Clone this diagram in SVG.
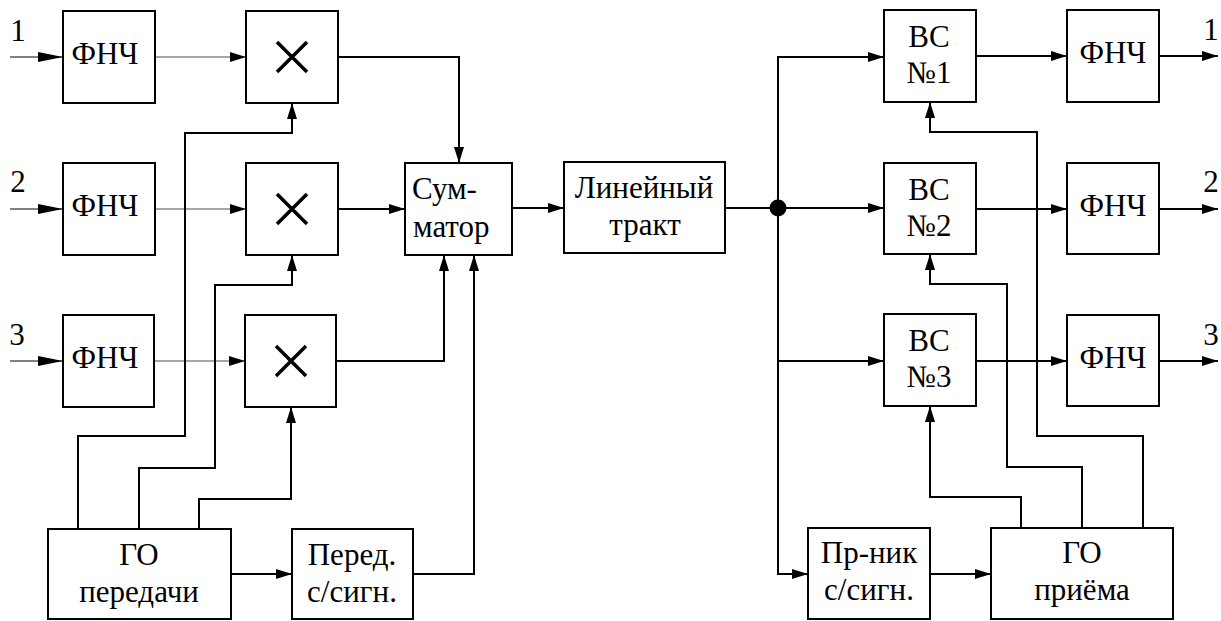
<svg xmlns="http://www.w3.org/2000/svg" width="1221" height="621" viewBox="0 0 1221 621">
<style>
.b{fill:#fff;stroke:#000;stroke-width:2}
.t{font-size:31px;fill:#000;text-anchor:middle}
.l{text-anchor:start}
.c{fill:none;stroke:#000;stroke-width:2}
.thin{fill:none;stroke:#000;stroke-width:1}
.g{fill:none;stroke:#888;stroke-width:1.5}
.x{stroke:#000;stroke-width:3.5;fill:none}
</style>
<defs>
<marker id="a" markerUnits="userSpaceOnUse" markerWidth="16" markerHeight="10" refX="16" refY="5" orient="auto"><path d="M0,0L16,5L0,10z" fill="#000"/></marker>
<marker id="ai" markerUnits="userSpaceOnUse" markerWidth="25" markerHeight="10" refX="25" refY="5" orient="auto"><path d="M0,0L25,5L0,10z" fill="#000"/></marker>
</defs>
<rect width="1221" height="621" fill="#fff"/>
<g id="connectors">
<path class="thin" d="M10,57H63" marker-end="url(#ai)"/>
<path class="thin" d="M10,209H63" marker-end="url(#ai)"/>
<path class="thin" d="M10,361H63" marker-end="url(#ai)"/>
<path class="g" d="M155,57H246" marker-end="url(#a)"/>
<path class="g" d="M155,209H246" marker-end="url(#a)"/>
<path class="g" d="M154,361H245" marker-end="url(#a)"/>
<path class="c" d="M338,57H459V163" marker-end="url(#a)"/>
<path class="c" d="M338,209H405" marker-end="url(#a)"/>
<path class="c" d="M336,361H444V255" marker-end="url(#a)"/>
<path class="c" d="M413,574H474V255" marker-end="url(#a)"/>
<path class="c" d="M512,208H564" marker-end="url(#a)"/>
<path class="c" d="M231,574H292" marker-end="url(#a)"/>
<path class="c" d="M78,529V436H185V133H292V103" marker-end="url(#a)"/>
<path class="c" d="M139,529V468H215V285H292V255" marker-end="url(#a)"/>
<path class="c" d="M199,533V499H291V407" marker-end="url(#a)"/>
<path class="c" d="M725,208H778"/>
<path class="c" d="M778,208V57H884" marker-end="url(#a)"/>
<path class="c" d="M778,208H884" marker-end="url(#a)"/>
<path class="c" d="M778,361H884" marker-end="url(#a)"/>
<path class="c" d="M778,208V574H808" marker-end="url(#a)"/>
<circle cx="778" cy="208" r="8.5" fill="#000"/>
<path class="c" d="M976,56H1067" marker-end="url(#a)"/>
<path class="c" d="M976,209H1067" marker-end="url(#a)"/>
<path class="c" d="M976,361H1067" marker-end="url(#a)"/>
<path class="c" d="M1159,56H1218" marker-end="url(#a)"/>
<path class="c" d="M1159,209H1218" marker-end="url(#a)"/>
<path class="c" d="M1159,361H1218" marker-end="url(#a)"/>
<path class="c" d="M930,574H991" marker-end="url(#a)"/>
<path class="c" d="M1143,528V436H1037V132H930V102" marker-end="url(#a)"/>
<path class="c" d="M1082,528V467H1007V284H930V254" marker-end="url(#a)"/>
<path class="c" d="M1021,532V497H930V406" marker-end="url(#a)"/>
</g>
<g id="nodes" font-family="Liberation Serif, Times New Roman, serif">
<g id="in-labels">
<text class="t" x="18" y="41">1</text>
<text class="t" x="18" y="192">2</text>
<text class="t" x="17" y="345">3</text>
<text class="t" x="1211" y="40">1</text>
<text class="t" x="1211" y="192">2</text>
<text class="t" x="1211" y="345">3</text>
</g>
<g id="lpf1"><rect class="b" x="63" y="11" width="92" height="92"/><text class="t" x="105" y="64">ФНЧ</text></g>
<g id="lpf2"><rect class="b" x="63" y="163" width="92" height="92"/><text class="t" x="105" y="216">ФНЧ</text></g>
<g id="lpf3"><rect class="b" x="63" y="315" width="91" height="92"/><text class="t" x="105" y="368">ФНЧ</text></g>
<g id="mul1"><rect class="b" x="246" y="11" width="92" height="92"/><path class="x" d="M277,42L307,72M307,42L277,72"/></g>
<g id="mul2"><rect class="b" x="246" y="163" width="92" height="92"/><path class="x" d="M277,194L307,224M307,194L277,224"/></g>
<g id="mul3"><rect class="b" x="245" y="315" width="91" height="92"/><path class="x" d="M276,346L306,376M306,346L276,376"/></g>
<g id="sum"><rect class="b" x="405" y="163" width="107" height="92"/><text class="t l" x="412" y="199">Сум-</text><text class="t l" x="413" y="237">матор</text></g>
<g id="line"><rect class="b" x="564" y="162" width="161" height="91"/><text class="t" x="644" y="198">Линейный</text><text class="t" x="645" y="235">тракт</text></g>
<g id="go-tx"><rect class="b" x="48" y="529" width="183" height="90"/><text class="t" x="139" y="565">ГО</text><text class="t" x="139" y="602">передачи</text></g>
<g id="sig-tx"><rect class="b" x="292" y="529" width="121" height="90"/><text class="t" x="352" y="565">Перед.</text><text class="t" x="352" y="602">с/сигн.</text></g>
<g id="vs1"><rect class="b" x="884" y="10" width="92" height="92"/><text class="t" x="929" y="47">ВС</text><text class="t" x="929" y="83">№1</text></g>
<g id="vs2"><rect class="b" x="884" y="163" width="92" height="91"/><text class="t" x="929" y="200">ВС</text><text class="t" x="929" y="236">№2</text></g>
<g id="vs3"><rect class="b" x="884" y="314" width="92" height="92"/><text class="t" x="929" y="351">ВС</text><text class="t" x="929" y="387">№3</text></g>
<g id="lpf4"><rect class="b" x="1067" y="10" width="92" height="92"/><text class="t" x="1113" y="63">ФНЧ</text></g>
<g id="lpf5"><rect class="b" x="1067" y="163" width="92" height="91"/><text class="t" x="1113" y="216">ФНЧ</text></g>
<g id="lpf6"><rect class="b" x="1067" y="315" width="92" height="91"/><text class="t" x="1113" y="368">ФНЧ</text></g>
<g id="sig-rx"><rect class="b" x="808" y="528" width="122" height="91"/><text class="t" x="869" y="563">Пр-ник</text><text class="t" x="869" y="600">с/сигн.</text></g>
<g id="go-rx"><rect class="b" x="991" y="528" width="182" height="91"/><text class="t" x="1082" y="563">ГО</text><text class="t" x="1082" y="600">приёма</text></g>
</g>
</svg>
